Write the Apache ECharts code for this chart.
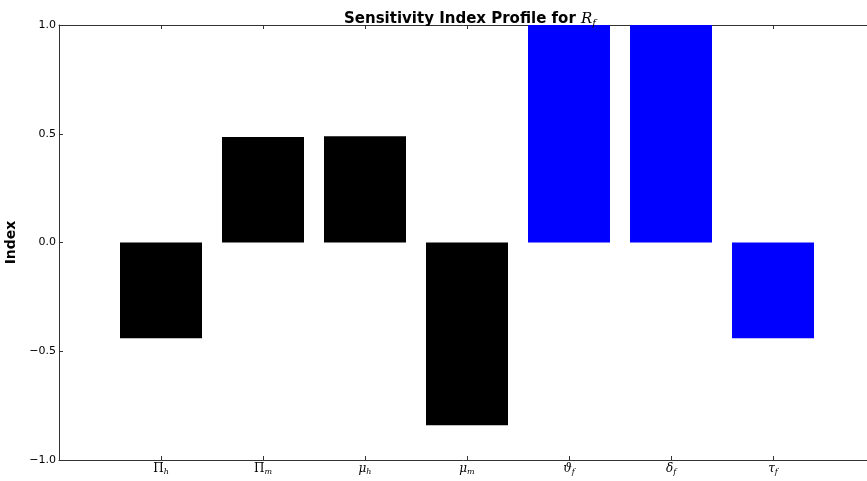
<!DOCTYPE html>
<html><head><meta charset="utf-8">
<script src="https://cdn.jsdelivr.net/npm/echarts@6/dist/echarts.min.js"></script>
<style>html,body{margin:0;padding:0;background:#fff}#c{width:867px;height:481px}</style>
</head><body><div id="c"></div>
<script>
// data
const symbols = ['Π','Π','μ','μ','ϑ','δ','τ'];
const subscripts = ['h','m','h','m','f','f','f'];
const values = [-0.44, 0.485, 0.488, -0.84, 1.0, 1.0, -0.44];
const barColors = ['#000000','#000000','#000000','#000000','#0000ff','#0000ff','#0000ff'];
const yTicks = [-1.0, -0.5, 0.0, 0.5, 1.0];

const cats = [''].concat(symbols.map((s,i)=>s+'_'+subscripts[i])).concat(['']);
const barData = [null].concat(values.map((v,i)=>({value:v,itemStyle:{color:barColors[i]}}))).concat([null]);

const chart = echarts.init(document.getElementById('c'));
const axisCol = '#333';
chart.setOption({
  animation:false,
  title:{
    text:'{b|Sensitivity Index Profile for }{r|R}{s|f}',
    left:465, top:5, textAlign:'center',
    textStyle:{rich:{
      b:{fontFamily:'DejaVu Sans',fontWeight:'bold',fontSize:15,color:'#000'},
      r:{fontFamily:'DejaVu Serif',fontStyle:'italic',fontWeight:'normal',fontSize:15,color:'#000'},
      s:{fontFamily:'DejaVu Serif',fontStyle:'italic',fontWeight:'normal',fontSize:10,color:'#000',padding:[8,0,0,0]}
    }}
  },
  grid:{left:59, right:-8, top:25, bottom:21, containLabel:false, outerBoundsMode:'none'},
  xAxis:[{
    type:'category', data:cats, boundaryGap:false,
    axisLine:{onZero:false,lineStyle:{color:axisCol,width:1}},
    axisTick:{inside:true,length:4,lineStyle:{color:axisCol}},
    splitLine:{show:false},
    axisLabel:{margin:2,interval:0,
      formatter:function(v){ if(!v) return ''; const p=v.split('_'); 
        const main = (p[0]==='Π') ? '{m|'+p[0]+'}' : '{g|'+p[0]+'}';
        return main+'{s|'+p[1]+'}'; },
      rich:{
        m:{fontFamily:'DejaVu Serif',fontSize:12,color:'#000'},
        g:{fontFamily:'DejaVu Serif',fontStyle:'italic',fontSize:12,color:'#000'},
        s:{fontFamily:'DejaVu Serif',fontStyle:'italic',fontSize:8,color:'#000',padding:[6,0,0,0]}
      }}
  },{
    type:'category', data:cats, boundaryGap:false, position:'top',
    axisLine:{onZero:false,lineStyle:{color:axisCol,width:1}},
    axisTick:{inside:true,length:4,lineStyle:{color:axisCol}},
    axisLabel:{show:false}, splitLine:{show:false}
  }],
  yAxis:{
    type:'value', min:-1, max:1, interval:0.5,
    name:'Index', nameLocation:'middle', nameGap:15,
    nameTextStyle:{fontFamily:'DejaVu Sans',fontWeight:'bold',fontSize:14,color:'#000'},
    axisLine:{show:true,onZero:false,lineStyle:{color:axisCol,width:1}},
    axisTick:{show:true,inside:true,length:4,lineStyle:{color:axisCol}},
    splitLine:{show:false},
    axisLabel:{margin:3,fontFamily:'DejaVu Sans',fontSize:11,color:'#000',
      formatter:function(v){ return (v<0?'\u2212':'')+Math.abs(v).toFixed(1); }}
  },
  series:[{
    type:'bar', data:barData, barWidth:82, xAxisIndex:0
  }]
});
</script></body></html>
